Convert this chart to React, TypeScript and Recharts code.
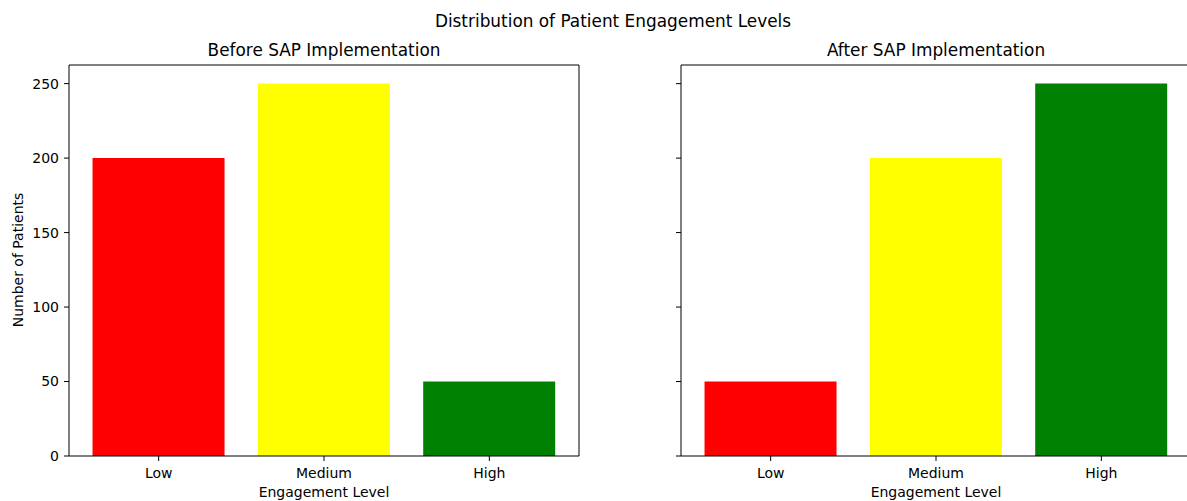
// Patient engagement: before / after SAP, two side-by-side bar panels
import { BarChart, Bar, XAxis, YAxis, Cell } from 'recharts';

const categories = ['Low', 'Medium', 'High'];
const beforeCounts = [200, 250, 50];
const afterCounts = [50, 200, 250];
const barColors = ['#ff0000', '#ffff00', '#008000'];
const yTicks = [0, 50, 100, 150, 200, 250];

const FONT = '"DejaVu Sans", sans-serif';
const tickStyle = { fontSize: 14, fill: '#000' };

/** One subplot panel */
function Panel({
  counts,
  left,
  showYLabels,
}: {
  counts: number[];
  left: number;
  showYLabels: boolean;
}) {
  const data = categories.map((c, i) => ({ level: c, count: counts[i] }));

  return (
    <div style={{ position: 'absolute', left, top: 0 }}>
      <BarChart
        width={600}
        height={501}
        data={data}
        margin={{ top: 64, right: 20, bottom: 0, left: 0 }}
        barCategoryGap="10%"
      >
        <XAxis
          dataKey="level"
          height={45}
          padding={{ left: 7, right: 7 }}
          tick={tickStyle}
          tickSize={5}
          tickMargin={7}
          axisLine={{ stroke: '#000' }}
          tickLine={{ stroke: '#000' }}
        />
        {/* top spine */}
        <XAxis
          xAxisId="top"
          orientation="top"
          dataKey="level"
          height={1}
          tick={false}
          tickLine={false}
          axisLine={{ stroke: '#000' }}
        />
        <YAxis
          width={69}
          domain={[0, 262.5]}
          ticks={yTicks}
          allowDataOverflow
          tick={tickStyle}
          tickSize={5}
          tickMargin={5}
          tickFormatter={(v) => (showYLabels ? String(v) : '')}
          axisLine={{ stroke: '#000' }}
          tickLine={{ stroke: '#000' }}
        />
        {/* right spine */}
        <YAxis
          yAxisId="right"
          orientation="right"
          width={1}
          domain={[0, 262.5]}
          tick={false}
          tickLine={false}
          axisLine={{ stroke: '#000' }}
        />
        <Bar dataKey="count" isAnimationActive={false}>
          {data.map((d, i) => (
            <Cell key={d.level} fill={barColors[i]} />
          ))}
        </Bar>
      </BarChart>
    </div>
  );
}

export default function App() {
  return (
    <div
      style={{
        position: 'absolute',
        left: 0,
        top: 0,
        width: 1187,
        height: 501,
        overflow: 'hidden',
        background: '#fff',
        fontFamily: FONT,
      }}
    >
      <Panel counts={beforeCounts} left={0} showYLabels />
      <Panel counts={afterCounts} left={612} showYLabels={false} />
      <svg
        width={1187}
        height={501}
        style={{ position: 'absolute', left: 0, top: 0, pointerEvents: 'none' }}
        fontFamily={FONT}
      >
        <text x={613} y={27} textAnchor="middle" fontSize={16.9} fill="#000">
          Distribution of Patient Engagement Levels
        </text>
        <text x={324} y={56} textAnchor="middle" fontSize={16.9} fill="#000">
          Before SAP Implementation
        </text>
        <text x={936} y={56} textAnchor="middle" fontSize={16.9} fill="#000">
          After SAP Implementation
        </text>
        <text x={324} y={497} textAnchor="middle" fontSize={14} fill="#000">
          Engagement Level
        </text>
        <text x={936} y={497} textAnchor="middle" fontSize={14} fill="#000">
          Engagement Level
        </text>
        <text
          x={23}
          y={260}
          textAnchor="middle"
          fontSize={14}
          fill="#000"
          transform="rotate(-90 23 260)"
        >
          Number of Patients
        </text>
      </svg>
    </div>
  );
}
